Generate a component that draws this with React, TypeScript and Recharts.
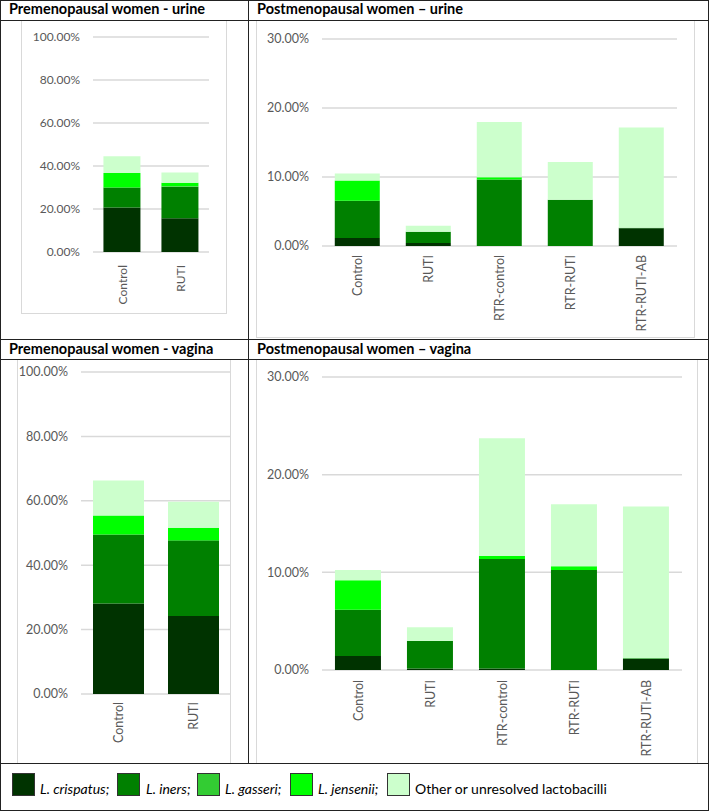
import { BarChart, Bar, XAxis, YAxis, CartesianGrid } from 'recharts';

// categories
const PRE_GROUPS = ['Control', 'RUTI'];
const POST_GROUPS = ['Control', 'RUTI', 'RTR-control', 'RTR-RUTI', 'RTR-RUTI-AB'];

// legend / series names (bottom of stack first)
const SPECIES = ['L. crispatus', 'L. iners', 'L. gasseri', 'L. jensenii', 'Other or unresolved lactobacilli'];
const SPECIES_COLORS = ['#003300', '#008000', '#33cc33', '#00ff00', '#ccffcc'];

// y ticks (percent)
const PRE_TICKS = [0, 20, 40, 60, 80, 100];
const POST_TICKS = [0, 10, 20, 30];

// relative abundance, % — one row per species, one value per group
const preUrine = [
  [20.7, 15.7], // crispatus
  [9.3, 14.6], // iners
  [0, 0.3], // gasseri
  [6.8, 1.6], // jensenii
  [7.7, 4.8], // other
];

const postUrine = [
  [1.16, 0.44, 0, 0, 2.56],
  [5.38, 1.64, 9.64, 6.69, 0.1],
  [0, 0, 0, 0, 0],
  [2.96, 0, 0.34, 0, 0],
  [1.0, 0.87, 8.0, 5.47, 14.5],
];

const preVagina = [
  [28.1, 24.2],
  [21.4, 23.3],
  [0, 0.3],
  [5.9, 3.8],
  [10.9, 8.1],
];

const postVagina = [
  [1.43, 0.15, 0.15, 0, 1.13],
  [4.75, 2.82, 11.22, 10.24, 0.07],
  [0, 0, 0, 0, 0],
  [3.0, 0, 0.3, 0.38, 0],
  [1.06, 1.4, 12.05, 6.35, 15.53],
];

const LINE = '#222';
const FRAME = '#d9d9d9';
const AXIS_TEXT = '#595959';

function RotTick({ x, y, payload, fs }: any) {
  return (
    <text
      x={x}
      y={y}
      transform={`rotate(-90 ${x} ${y})`}
      textAnchor="end"
      dominantBaseline="central"
      fill={AXIS_TEXT}
      fontSize={fs}
    >
      {payload.value}
    </text>
  );
}

interface PanelProps {
  groups: string[];
  rows: number[][];
  ticks: number[];
  left: number;
  top: number;
  w: number;
  h: number;
  mTop: number;
  mRight: number;
  yWidth: number;
  xHeight: number;
  gap: string;
  fs: number;
  xGap: number;
  frameBottom?: boolean;
}

function Panel(p: PanelProps) {
  const data = p.groups.map((name, i) => {
    const d: any = { name };
    p.rows.forEach((r, k) => (d['s' + k] = r[i]));
    return d;
  });
  return (
    <div
      style={{
        position: 'absolute',
        left: p.left,
        top: p.top,
        width: p.w,
        height: p.h,
        boxSizing: 'border-box',
        border: `1px solid ${FRAME}`,
        borderBottom: p.frameBottom === false ? 'none' : `1px solid ${FRAME}`,
      }}
    >
      <div style={{ position: 'absolute', left: -1, top: -1 }}>
        <BarChart
          width={p.w}
          height={p.h}
          data={data}
          margin={{ top: p.mTop, right: p.mRight, left: 0, bottom: 0 }}
          barCategoryGap={p.gap}
        >
          <CartesianGrid vertical={false} stroke={FRAME} strokeWidth={1.5} />
          <XAxis
            dataKey="name"
            axisLine={false}
            tickLine={false}
            tickSize={0}
            tickMargin={p.xGap}
            height={p.xHeight}
            interval={0}
            tick={(t: any) => <RotTick {...t} fs={p.fs} />}
          />
          <YAxis
            type="number"
            domain={[0, p.ticks[p.ticks.length - 1]]}
            ticks={p.ticks}
            width={p.yWidth}
            axisLine={false}
            tickLine={false}
            tickSize={0}
            tickMargin={13}
            tick={{ fill: AXIS_TEXT, fontSize: p.fs }}
            tickFormatter={(v: number) => v.toFixed(2) + '%'}
          />
          {SPECIES.map((s, k) => (
            <Bar key={s} dataKey={'s' + k} name={s} stackId="a" fill={SPECIES_COLORS[k]} isAnimationActive={false} />
          ))}
        </BarChart>
      </div>
    </div>
  );
}

function HLine({ y, x = 0, w = 709 }: { y: number; x?: number; w?: number }) {
  return <div style={{ position: 'absolute', left: x, top: y, width: w, height: 1, background: LINE }} />;
}
function VLine({ x, y = 0, h = 811 }: { x: number; y?: number; h?: number }) {
  return <div style={{ position: 'absolute', left: x, top: y, width: 1, height: h, background: LINE }} />;
}

function Header({ x, y, text }: { x: number; y: number; text: string }) {
  return (
    <div style={{ position: 'absolute', left: x, top: y, fontSize: 14.5, fontWeight: 700, lineHeight: '18px', color: '#000', whiteSpace: 'nowrap' }}>
      {text}
    </div>
  );
}

const legendBoxX = [12, 117, 197, 290, 387];
const legendTextX = [40, 146, 225, 318, 415];

export default function App() {
  return (
    <div style={{ position: 'absolute', left: 0, top: 0, width: 709, height: 811, background: '#fff', fontFamily: 'Lato, sans-serif' }}>
      <Panel groups={PRE_GROUPS} rows={preUrine} ticks={PRE_TICKS} left={21} top={20} w={206} h={294}
        mTop={17} mRight={18} yWidth={72} xHeight={62} gap="18%" fs={12} xGap={13} />
      <Panel groups={POST_GROUPS} rows={postUrine} ticks={POST_TICKS} left={256} top={20} w={439} h={318}
        mTop={19} mRight={18} yWidth={66} xHeight={92} gap="18%" fs={12.5} xGap={9} />
      <Panel groups={PRE_GROUPS} rows={preVagina} ticks={PRE_TICKS} left={17} top={359} w={214} h={404}
        mTop={13} mRight={0} yWidth={64} xHeight={69} gap="16%" fs={12.5} xGap={8} frameBottom={false} />
      <Panel groups={POST_GROUPS} rows={postVagina} ticks={POST_TICKS} left={256} top={359} w={442} h={404}
        mTop={18} mRight={16} yWidth={66} xHeight={93} gap="18%" fs={12.5} xGap={10} frameBottom={false} />

      {/* table lines */}
      <HLine y={0} />
      <HLine y={20} />
      <HLine y={339} />
      <HLine y={359} />
      <HLine y={763} />
      <HLine y={810} />
      <VLine x={0} />
      <VLine x={708} />
      <VLine x={248} h={763} />

      <Header x={9} y={0} text="Premenopausal women - urine" />
      <Header x={257} y={0} text="Postmenopausal women – urine" />
      <Header x={9} y={340} text="Premenopausal women - vagina" />
      <Header x={257} y={340} text="Postmenopausal women – vagina" />

      {/* legend */}
      {SPECIES.map((s, k) => (
        <div key={s}>
          <div
            style={{
              position: 'absolute', left: legendBoxX[k], top: 773, width: 23, height: 23,
              boxSizing: 'border-box', border: '1.5px solid #333', background: SPECIES_COLORS[k],
            }}
          />
          <div style={{ position: 'absolute', left: legendTextX[k], top: 782, fontSize: 14, lineHeight: '14px', color: '#000', whiteSpace: 'nowrap', fontStyle: k < 4 ? 'italic' : 'normal' }}>
            {k < 4 ? s + ';' : s}
          </div>
        </div>
      ))}
    </div>
  );
}
